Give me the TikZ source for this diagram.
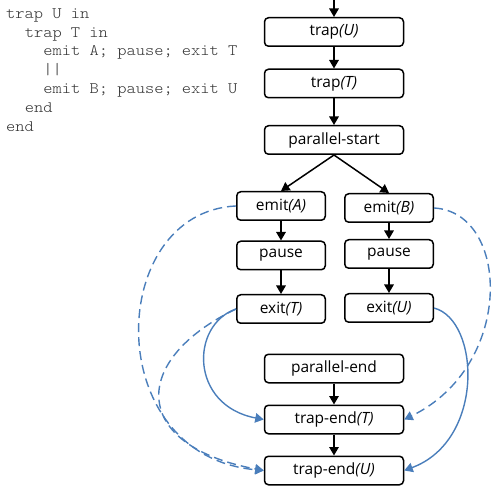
\documentclass[tikz,border=0pt]{standalone}
\usepackage{fontspec}
\setmainfont{Open Sans}
\newfontfamily\codefont{lmmonolt10-regular}[Extension=.otf, FakeStretch=1.1]
\usetikzlibrary{arrows.meta}
\definecolor{flowblue}{RGB}{74,126,187}
\definecolor{codegray}{RGB}{50,50,50}
\tikzset{
  stepbox/.style={draw=black, line width=1.5pt, rounded corners=4pt, fill=white,
    minimum height=28.5pt, inner sep=0pt, font=\fontsize{15.5}{18}\selectfont},
  widebox/.style={stepbox, minimum width=139pt},
  narrowbox/.style={stepbox, minimum width=88.5pt},
  flow/.style={draw=black, line width=1.5pt, -{Triangle[length=8.5pt,width=9.5pt]}},
  jump/.style={draw=flowblue, line width=1.4pt, -{Triangle[length=8.5pt,width=9.5pt]}},
  jumpdash/.style={jump, dash pattern=on 9pt off 5pt},
  codeline/.style={anchor=base west, inner sep=0pt, text=codegray,
    font=\codefont\fontsize{16}{19}\selectfont},
}
\newcommand{\sigarg}[1]{\textit{(#1)}}
\begin{document}
\begin{tikzpicture}[x=1pt, y=-1pt]
\useasboundingbox (0,0) rectangle (493,489);

% source program
\node[codeline] (c1) at (6,18.5)            {trap U in};
\node[codeline] (c2) at (6+2*9.3,37.3)      {trap T in};
\node[codeline] (c3) at (6+4*9.3,56)        {emit A; pause; exit T};
\node[codeline] (c4) at (6+4*9.3,74.8)      {||};
\node[codeline] (c5) at (6+4*9.3,93.6)      {emit B; pause; exit U};
\node[codeline] (c6) at (6+2*9.3,112.4)     {end};
\node[codeline] (c7) at (6,131.2)           {end};

% control-flow graph
\coordinate (entry) at (334,0);
\node[widebox]   (trapU)  at (334,32)    {trap\sigarg{U}};
\node[widebox]   (trapT)  at (334,83.5)  {trap\sigarg{T}};
\node[widebox]   (pstart) at (334,140)   {parallel-start};
\node[narrowbox] (emitA)  at (281,206)   {emit\sigarg{A}};
\node[narrowbox] (emitB)  at (389,208)   {emit\sigarg{B}};
\node[narrowbox] (pauseA) at (281,255.5) {pause};
\node[narrowbox] (pauseB) at (389,254)   {pause};
\node[narrowbox] (exitT)  at (281,309)   {exit\sigarg{T}};
\node[narrowbox] (exitU)  at (389,308)   {exit\sigarg{U}};
\node[widebox]   (pend)   at (334,368.5) {parallel-end};
\node[widebox]   (tendT)  at (334,419.5) {trap-end\sigarg{T}};
\node[widebox]   (tendU)  at (334,470.5) {trap-end\sigarg{U}};

\draw[flow] (entry) -- (trapU);
\draw[flow] (trapU) -- (trapT);
\draw[flow] (trapT) -- (pstart);
\draw[flow] (pstart.south) -- (emitA.north);
\draw[flow] (pstart.south) -- (emitB.north);
\draw[flow] (emitA) -- (pauseA);
\draw[flow] (pauseA) -- (exitT);
\draw[flow] (emitB) -- (pauseB);
\draw[flow] (pauseB) -- (exitU);
\draw[flow] (pend) -- (tendT);
\draw[flow] (tendT) -- (tendU);

% jumps out of the traps
\draw[jumpdash] (emitA.west) .. controls +(-130,6) and +(-164,-15) .. (tendU.west);
\draw[jumpdash] (exitT.west) .. controls +(-106,51) and +(-134,-25) .. (tendU.west);
\draw[jump]     (exitT.west) .. controls +(-46,16) and +(-74,-14) .. (tendT.west);
\draw[jumpdash] (emitB.east) .. controls +(76,4) and +(111,-54) .. (tendT.east);
\draw[jump]     (exitU.east) .. controls +(46,12) and +(81,-30) .. (tendU.east);
\end{tikzpicture}
\end{document}
